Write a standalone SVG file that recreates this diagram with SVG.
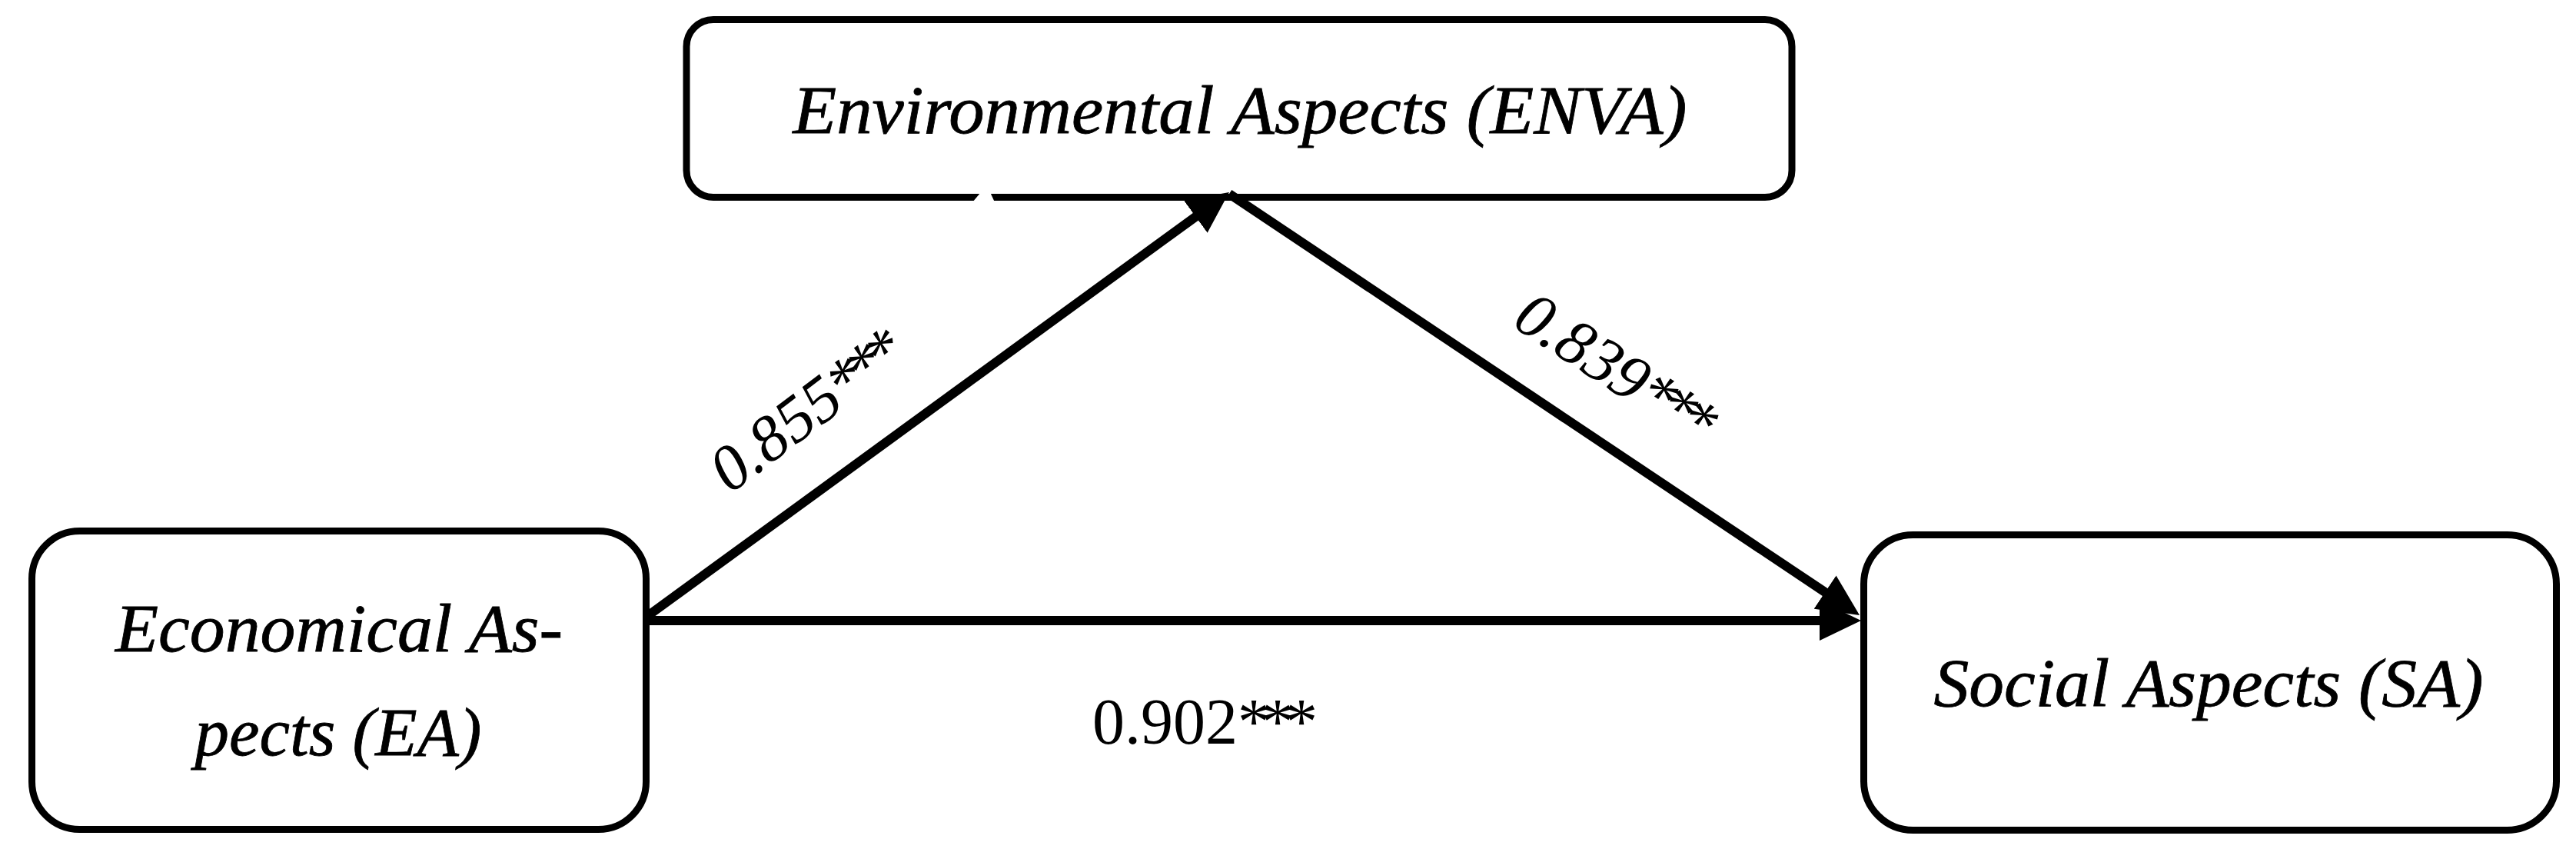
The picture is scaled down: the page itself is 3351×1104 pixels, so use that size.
<svg xmlns="http://www.w3.org/2000/svg" width="3351" height="1104" viewBox="0 0 3351 1104">
<style>
.box{fill:#fff;stroke:#000;stroke-width:9}
.lbl{font-family:"Liberation Serif","Times New Roman",serif;font-style:italic;font-size:88px;fill:#000;stroke:#000;stroke-width:0.8px}
.num{font-family:"Liberation Serif","Times New Roman",serif;font-size:84px;fill:#000}
.ast{letter-spacing:-11px}
.edge{stroke:#000;stroke-width:12;fill:none;marker-end:url(#ah)}
</style>
<defs>
<marker id="ah" markerUnits="userSpaceOnUse" viewBox="0 0 54 52" markerWidth="54" markerHeight="52" refX="34" refY="26" orient="auto">
<path d="M0,0 L54,26 L0,52 z" fill="#000"/>
</marker>
</defs>
<rect x="0" y="0" width="3351" height="1104" fill="#fff"/>
<g id="node-enva">
<rect class="box" x="893" y="25.5" width="1438" height="231" rx="35" ry="35"/>
<polygon points="1276,250 1288,250 1294,263 1265,263" fill="#fff"/>
<text class="lbl" x="1613" y="173" text-anchor="middle" textLength="1163" lengthAdjust="spacingAndGlyphs">Environmental Aspects (ENVA)</text>
</g>
<g id="node-ea">
<rect class="box" x="41.5" y="690.5" width="799" height="388" rx="62" ry="62"/>
<text class="lbl" x="441" y="847" text-anchor="middle" textLength="582" lengthAdjust="spacingAndGlyphs">Economical As-</text>
<text class="lbl" x="440" y="982" text-anchor="middle" textLength="373" lengthAdjust="spacingAndGlyphs">pects (EA)</text>
</g>
<g id="node-sa">
<rect class="box" x="2424.5" y="695.5" width="901" height="384" rx="64" ry="64"/>
<text class="lbl" x="2873" y="918" text-anchor="middle" textLength="715" lengthAdjust="spacingAndGlyphs">Social Aspects (SA)</text>
</g>
<g id="connectors">
<line class="edge" x1="841" y1="802" x2="1582.8" y2="261.8"/>
<line class="edge" x1="1599" y1="252" x2="2402.4" y2="788.9"/>
<line class="edge" x1="841" y1="807" x2="2401" y2="807"/>
<text class="num" transform="translate(947,645) rotate(-37) skewX(-9)">0.855<tspan class="ast">***</tspan></text>
<text class="num" transform="translate(1962,421) rotate(33) skewX(-9)">0.839<tspan class="ast">***</tspan></text>
<text class="num" x="1421" y="967">0.902<tspan class="ast">***</tspan></text>
</g>
</svg>
